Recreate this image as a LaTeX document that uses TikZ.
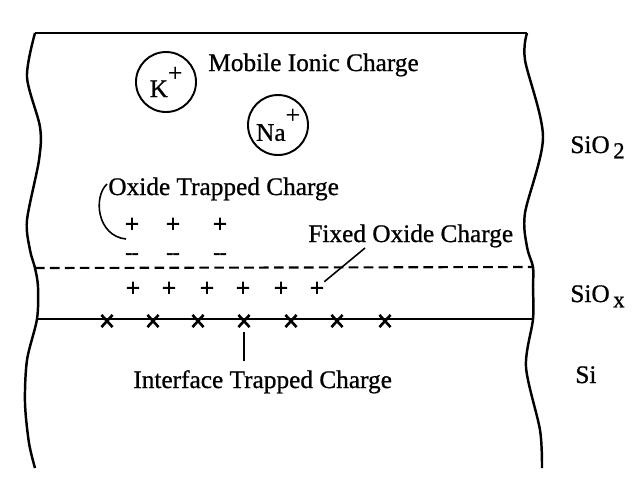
\documentclass[tikz,border=0pt]{standalone}
\usepackage{fontspec}
\setmainfont{Liberation Serif}[FakeBold=0.8]
\newfontfamily\chgfont{Liberation Serif}[FakeBold=3]
\usetikzlibrary{shapes.misc}

\begin{document}
\begin{tikzpicture}[x=0.2mm,y=-0.2mm,
  lbl/.style={anchor=base west,inner sep=0pt,font=\fontsize{14.4}{17}\selectfont},
  ion/.style={draw,circle,line width=1.1pt,minimum size=12mm,inner sep=0pt,font=\fontsize{14.4}{17}\selectfont},
  chg/.style={inner sep=0pt,font=\chgfont\fontsize{14}{14}\selectfont},
  xmark/.style={draw,cross out,line width=1.5pt,minimum width=1.7mm,minimum height=1.9mm,inner sep=0pt},
  rim/.style={line width=1.4pt},
  ldr/.style={line width=0.9pt}]
\useasboundingbox (0,0) rectangle (635,485);

\draw[rim] (35,33) -- (527,33);
\draw[rim] plot[smooth] coordinates {(35,33) (27,77) (40,127) (39,160) (27,220) (30,250) (35,268) (38,287) (37,319) (27,360) (25,403) (29,443) (35,468)};
\draw[rim] plot[smooth] coordinates {(527,33) (525,60) (543,137) (525,213) (527,247) (533,267) (533,287) (533,319) (526,367) (540,430) (542,468)};
\draw[line width=1.2pt,dash pattern=on 5.5pt off 3pt] (35,268) -- (533,267);
\draw[line width=1.3pt] (37,319) -- (533,319);

\node[ion] (k) at (166,82) {K\raisebox{9pt}{+}};
\node[ion] (na) at (278,125) {Na\raisebox{10pt}{+}};
\node[lbl] (mic) at (208,71) {Mobile Ionic Charge};
\node[lbl] (otc) at (108,195) {Oxide Trapped Charge};
\node[lbl] (foc) at (308,242) {Fixed Oxide Charge};
\node[lbl] (itc) at (133,388) {Interface Trapped Charge};
\node[lbl] (sio2) at (570,153) {SiO\kern2pt\raisebox{-3pt}{\fontsize{13}{13}\selectfont 2}};
\node[lbl] (siox) at (570,302) {SiO\kern2pt\raisebox{-3pt}{\fontsize{13}{13}\selectfont x}};
\node[lbl] (si) at (575,383) {Si};

\foreach \px [count=\i] in {132,173,220} {
  \node[chg] (otp\i) at (\px,225) {+};
  \node[chg,font=\chgfont\fontsize{11}{11}\selectfont] (otm\i) at (\px,256) {--};
}
\foreach \px [count=\i] in {133,169,207,243,281,317}
  \node[chg] (fx\i) at (\px,289) {+};
\foreach \px [count=\i] in {107,153,198,244,291,337,385}
  \node[xmark] (it\i) at (\px,321) {};

\coordinate (brB) at (126,239);
\draw[ldr] ([shift={(-1,-11)}]otc.base west) .. controls (93,197) and (97,236) .. (brB);
\draw[ldr] ([shift={(57,6)}]foc.base west) -- (fx6.north east);
\draw[ldr] ([yshift=-3pt]it4.south) -- ([yshift=5pt]it4.south |- itc.north);
\end{tikzpicture}
\end{document}
